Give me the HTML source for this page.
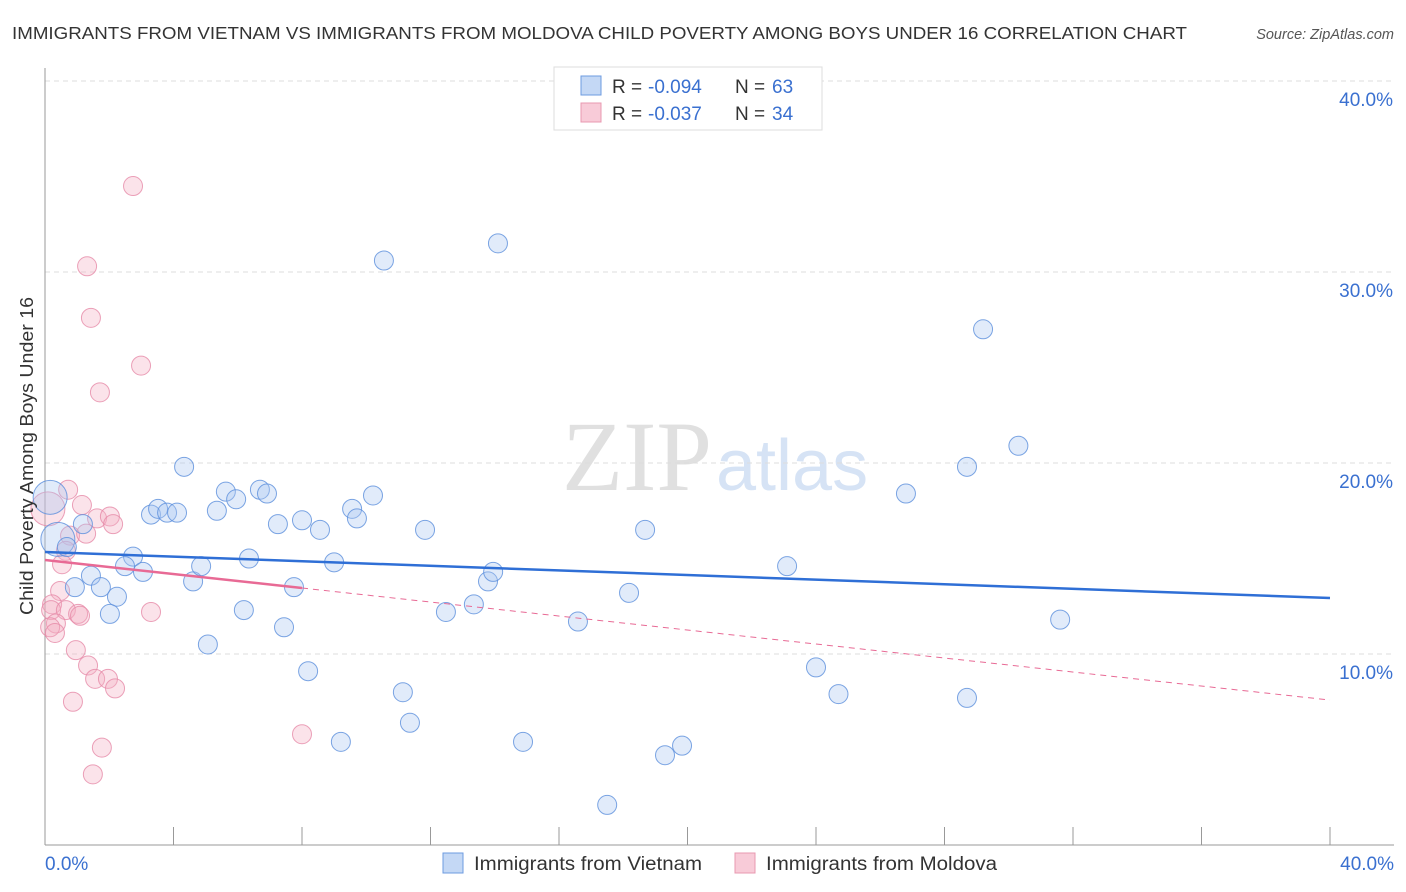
<!DOCTYPE html>
<html><head><meta charset="utf-8"><style>
body{margin:0;background:#fff;font-family:"Liberation Sans",sans-serif;}
svg{display:block}
</style></head><body>
<svg id="chart" width="1406" height="892" xmlns="http://www.w3.org/2000/svg">
<text x="12" y="39" font-size="17.5" fill="#333" textLength="1175" lengthAdjust="spacingAndGlyphs">IMMIGRANTS FROM VIETNAM VS IMMIGRANTS FROM MOLDOVA CHILD POVERTY AMONG BOYS UNDER 16 CORRELATION CHART</text>
<text x="1394" y="39" font-size="14.5" fill="#555" font-style="italic" text-anchor="end">Source: ZipAtlas.com</text>
<text x="712" y="490" font-size="100" fill="#e0e0e0" font-family="Liberation Serif" text-anchor="end">ZIP</text>
<text x="716" y="490" font-size="72" fill="#d6e3f5">atlas</text>
<g id="grid"></g>
<g id="axes"></g>
<g id="points"></g>
<g id="trends"></g>
<text transform="translate(33,456) rotate(-90)" font-size="18" fill="#333" text-anchor="middle" textLength="318" lengthAdjust="spacingAndGlyphs">Child Poverty Among Boys Under 16</text>
<g>
<rect x="554" y="67" width="268" height="63" fill="#fff" stroke="#ddd"/>
<rect x="581" y="76" width="20" height="19" fill="#c4d8f5" stroke="#6d9be0"/>
<text x="612" y="93" font-size="19" fill="#333">R =</text>
<text x="648" y="93" font-size="19" fill="#3a70d0">-0.094</text>
<text x="735" y="93" font-size="19" fill="#333">N =</text>
<text x="772" y="93" font-size="19" fill="#3a70d0">63</text>
<rect x="581" y="103" width="20" height="19" fill="#f8cbd8" stroke="#e898b0"/>
<text x="612" y="120" font-size="19" fill="#333">R =</text>
<text x="648" y="120" font-size="19" fill="#3a70d0">-0.037</text>
<text x="735" y="120" font-size="19" fill="#333">N =</text>
<text x="772" y="120" font-size="19" fill="#3a70d0">34</text>
</g>
<g>
<rect x="443" y="853" width="20" height="20" fill="#c4d8f5" stroke="#6d9be0"/>
<text x="474" y="870" font-size="19" fill="#333" textLength="228" lengthAdjust="spacingAndGlyphs">Immigrants from Vietnam</text>
<rect x="735" y="853" width="20" height="20" fill="#f8cbd8" stroke="#e898b0"/>
<text x="766" y="870" font-size="19" fill="#333" textLength="231" lengthAdjust="spacingAndGlyphs">Immigrants from Moldova</text>
</g>
</svg>
<script>
const vnX=[0.16,0.4,0.68,1.18,1.43,0.93,1.74,2.24,2.02,2.74,2.49,3.05,3.30,3.52,3.80,4.11,4.33,4.61,4.86,5.07,5.35,5.63,5.95,6.19,6.35,6.69,6.91,7.25,7.44,7.75,8.0,8.19,8.56,9.0,9.21,9.56,9.71,10.21,10.55,11.14,11.36,11.83,12.48,13.35,13.79,13.95,14.10,14.88,16.59,17.5,18.18,18.68,19.3,19.83,23.1,24.0,24.7,26.8,28.7,28.7,29.2,30.3,31.6];
const vnY=[18.2,16.0,15.6,16.8,14.1,13.5,13.5,13.0,12.1,15.1,14.6,14.3,17.3,17.6,17.4,17.4,19.8,13.8,14.6,10.5,17.5,18.5,18.1,12.3,15.0,18.6,18.4,16.8,11.4,13.5,17.0,9.1,16.5,14.8,5.4,17.6,17.1,18.3,30.6,8.0,6.4,16.5,12.2,12.6,13.8,14.3,31.5,5.4,11.7,2.1,13.2,16.5,4.7,5.2,14.6,9.3,7.9,18.4,7.7,19.8,27.0,20.9,11.8];
const mdX=[2.74,1.31,1.43,2.99,1.71,0.72,1.15,0.09,1.62,2.02,2.12,0.78,1.28,0.65,0.53,0.47,0.22,0.19,0.65,1.03,1.09,3.30,0.34,0.16,0.31,0.96,1.34,1.56,1.96,2.18,0.87,1.77,1.49,8.0];
const mdY=[34.5,30.3,27.6,25.1,23.7,18.6,17.8,17.6,17.1,17.2,16.8,16.2,16.3,15.4,14.7,13.3,12.6,12.3,12.3,12.1,12.0,12.2,11.6,11.4,11.1,10.2,9.4,8.7,8.7,8.2,7.5,5.1,3.7,5.8];
const yTicks=[10,20,30,40];
const yTickLabels=["10.0%","20.0%","30.0%","40.0%"];
const xTickVals=[0,4,8,12,16,20,24,28,32,36,40];
const vnTrend=[15.34,12.93];
const mdTrend=[14.92,7.59];
const NS="http://www.w3.org/2000/svg";
const sx=v=>45+v/40*1285, sy=v=>845-v/10*191;
function mk(t,a,p){const e=document.createElementNS(NS,t);for(const k in a)e.setAttribute(k,a[k]);document.getElementById(p).appendChild(e);return e;}
yTicks.forEach((t,i)=>{
 let l=mk('line',{x1:45,x2:1394,y1:sy(t),y2:sy(t),stroke:'#ddd','stroke-dasharray':'5,4'},'grid');
 
 
 let tx=mk('text',{x:1393,y:sy(t)+25,'font-size':19,fill:'#3a70d0','text-anchor':'end'},'grid');tx.textContent=yTickLabels[i];
 
 
});
let ax=mk('line',{x1:45,x2:45,y1:68,y2:845,stroke:'#999'},'axes');


let bx=mk('line',{x1:45,x2:1394,y1:845,y2:845,stroke:'#999'},'axes');


xTickVals.forEach(t=>{let l=mk('line',{x1:sx(t),x2:sx(t),y1:827,y2:845,stroke:'#999'},'axes');
 
 });
[[0,"0.0%",'start',45],[40,"40.0%",'end',1394]].forEach(d=>{let t=mk('text',{x:d[3],y:870,'font-size':19,fill:'#3a70d0','text-anchor':d[2]},'axes');t.textContent=d[1];
 
 });
function pts(X,Y,fill,stroke,name){X.forEach((x,i)=>{let r=(i<2&&name==='vietnam-point')||(i===7&&name==='moldova-point')?17:9.5;
 let c=mk('circle',{cx:sx(x),cy:sy(Y[i]),r:r,fill:fill,'fill-opacity':0.35,stroke:stroke,'stroke-opacity':0.8,'stroke-width':1},'points');
 
 });}
pts(mdX,mdY,'#f4b0c4','#e68aa8','moldova-point');
pts(vnX,vnY,'#a9c6f0','#5b8fdc','vietnam-point');
let t1=mk('line',{x1:sx(0),y1:sy(vnTrend[0]),x2:sx(40),y2:sy(vnTrend[1]),stroke:'#2f6fd6','stroke-width':2.5},'trends');


const my=x=>mdTrend[0]+(mdTrend[1]-mdTrend[0])*x/40;
let t2=mk('line',{x1:sx(0),y1:sy(my(0)),x2:sx(8),y2:sy(my(8)),stroke:'#e86a95','stroke-width':2.5},'trends');


let t3=mk('line',{x1:sx(8),y1:sy(my(8)),x2:sx(40),y2:sy(my(40)),stroke:'#e86a95','stroke-width':1,'stroke-dasharray':'6,5'},'trends');


</script>
</body></html>
